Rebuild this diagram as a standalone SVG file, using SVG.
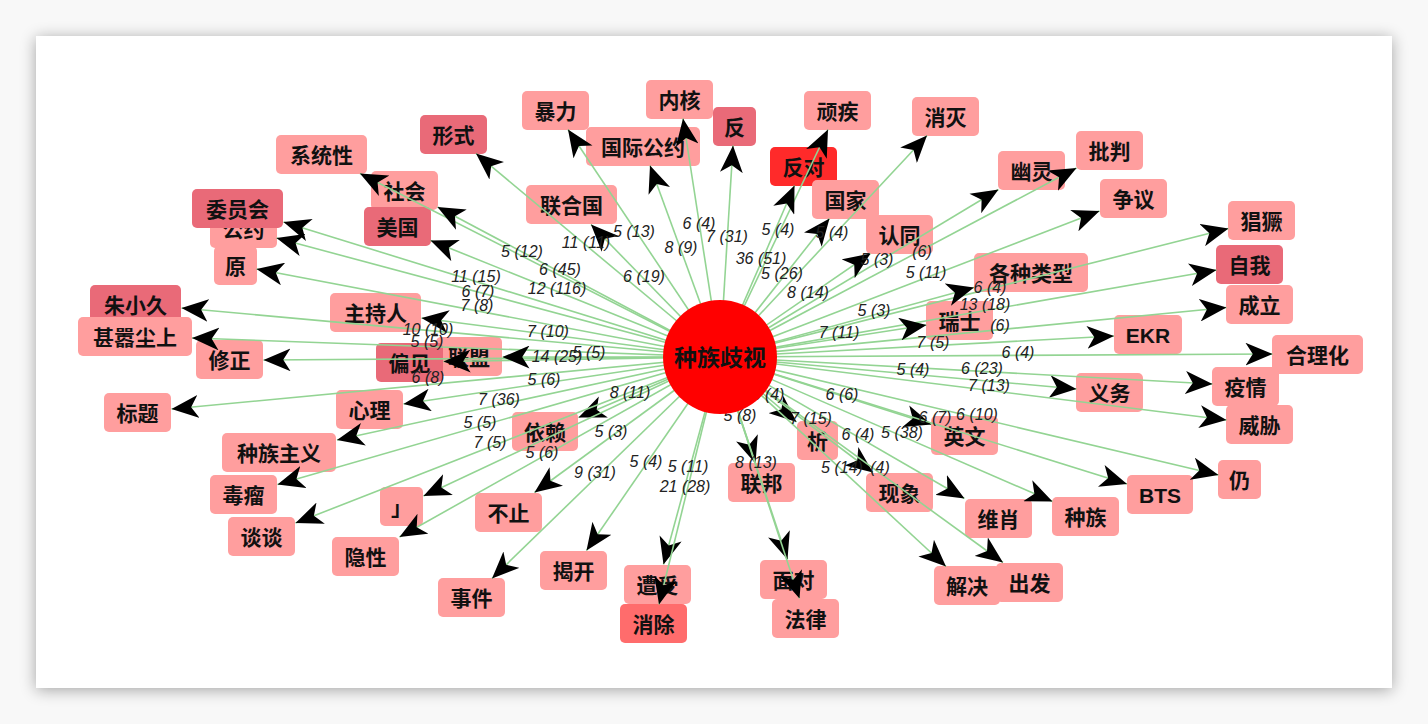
<svg xmlns="http://www.w3.org/2000/svg" width="1428" height="724" viewBox="0 0 1428 724">
<defs>
<filter id="shadow" x="-5%" y="-5%" width="110%" height="110%">
<feGaussianBlur in="SourceAlpha" stdDeviation="8"/>
<feOffset dx="0" dy="2"/>
<feComponentTransfer><feFuncA type="linear" slope="0.35"/></feComponentTransfer>
<feMerge><feMergeNode/><feMergeNode in="SourceGraphic"/></feMerge>
</filter>
<marker id="arr" viewBox="0 0 26 22" refX="26" refY="11" markerWidth="27" markerHeight="23" markerUnits="userSpaceOnUse" orient="auto">
<path d="M0,0 L26,11 L0,22 L7,11 Z" fill="#000"/>
</marker>
</defs>
<style>
.bx{fill:#ff9e9e}
.dk{fill:#e96a78}
.rd{fill:#ff2a2a}
.r2{fill:#ff6c6c}
.nt{font-family:"Liberation Sans","Noto Sans CJK SC",sans-serif;font-weight:bold;font-size:21px;fill:#111;text-anchor:middle;dominant-baseline:central}
.ed line{stroke:#93d493;stroke-width:1.6;marker-end:url(#arr)}
.el{font-family:"Liberation Sans","Noto Sans CJK SC",sans-serif;font-style:italic;font-size:16px;fill:#222;text-anchor:middle}
</style>
<rect width="1428" height="724" fill="#f8f8f8"/>
<rect x="36" y="36" width="1356" height="652" fill="#fff" filter="url(#shadow)"/>

<g id="nodes">
<g id="n-neihe"><rect class="bx" x="646" y="80" width="67" height="39" rx="5"/><text class="nt" x="679.5" y="100">内核</text></g>
<g id="n-fan"><rect class="dk" x="713" y="107" width="43" height="39" rx="5"/><text class="nt" x="734.5" y="127">反</text></g>
<g id="n-baoli"><rect class="bx" x="522" y="91" width="67" height="39" rx="5"/><text class="nt" x="555.5" y="111">暴力</text></g>
<g id="n-wanji"><rect class="bx" x="804" y="91" width="67" height="39" rx="5"/><text class="nt" x="837.5" y="111">顽疾</text></g>
<g id="n-xiaomie"><rect class="bx" x="912" y="97" width="67" height="39" rx="5"/><text class="nt" x="945.5" y="117">消灭</text></g>
<g id="n-xingshi"><rect class="dk" x="420" y="115" width="67" height="39" rx="5"/><text class="nt" x="453.5" y="135">形式</text></g>
<g id="n-guojigongyue"><rect class="bx" x="586" y="127" width="114" height="39" rx="5"/><text class="nt" x="643" y="147">国际公约</text></g>
<g id="n-pipan"><rect class="bx" x="1076" y="131" width="67" height="39" rx="5"/><text class="nt" x="1109.5" y="151">批判</text></g>
<g id="n-xitongxing"><rect class="bx" x="276" y="135" width="91" height="39" rx="5"/><text class="nt" x="321.5" y="155">系统性</text></g>
<g id="n-fandui"><rect class="rd" x="770" y="147" width="67" height="39" rx="5"/><text class="nt" x="803.5" y="167">反对</text></g>
<g id="n-youling"><rect class="bx" x="998" y="151" width="67" height="39" rx="5"/><text class="nt" x="1031.5" y="171">幽灵</text></g>
<g id="n-shehui"><rect class="bx" x="371" y="171" width="67" height="39" rx="5"/><text class="nt" x="404.5" y="191">社会</text></g>
<g id="n-lianheguo"><rect class="bx" x="526" y="185" width="91" height="39" rx="5"/><text class="nt" x="571.5" y="205">联合国</text></g>
<g id="n-guojia"><rect class="bx" x="812" y="180" width="67" height="39" rx="5"/><text class="nt" x="845.5" y="200">国家</text></g>
<g id="n-zhengyi"><rect class="bx" x="1100" y="179" width="67" height="39" rx="5"/><text class="nt" x="1133.5" y="199">争议</text></g>
<g id="n-gongyue"><rect class="bx" x="210" y="209" width="67" height="39" rx="5"/><text class="nt" x="243.5" y="229">公约</text></g>
<g id="n-weiyuanhui"><rect class="dk" x="192" y="189" width="91" height="39" rx="5"/><text class="nt" x="237.5" y="209">委员会</text></g>
<g id="n-meiguo"><rect class="dk" x="364" y="207" width="67" height="39" rx="5"/><text class="nt" x="397.5" y="227">美国</text></g>
<g id="n-rentong"><rect class="bx" x="866" y="215" width="67" height="39" rx="5"/><text class="nt" x="899.5" y="235">认同</text></g>
<g id="n-changjue"><rect class="bx" x="1228" y="201" width="67" height="39" rx="5"/><text class="nt" x="1261.5" y="221">猖獗</text></g>
<g id="n-yuan"><rect class="bx" x="214" y="246" width="43" height="39" rx="5"/><text class="nt" x="235.5" y="266">原</text></g>
<g id="n-gezhongleixing"><rect class="bx" x="974" y="253" width="114" height="39" rx="5"/><text class="nt" x="1031" y="273">各种类型</text></g>
<g id="n-ziwo"><rect class="dk" x="1216" y="245" width="67" height="39" rx="5"/><text class="nt" x="1249.5" y="265">自我</text></g>
<g id="n-zhuxiaojiu"><rect class="dk" x="90" y="285" width="91" height="39" rx="5"/><text class="nt" x="135.5" y="305">朱小久</text></g>
<g id="n-chengli"><rect class="bx" x="1226" y="285" width="67" height="39" rx="5"/><text class="nt" x="1259.5" y="305">成立</text></g>
<g id="n-zhuchiren"><rect class="bx" x="330" y="293" width="91" height="39" rx="5"/><text class="nt" x="375.5" y="313">主持人</text></g>
<g id="n-ruishi"><rect class="bx" x="926" y="301" width="67" height="39" rx="5"/><text class="nt" x="959.5" y="321">瑞士</text></g>
<g id="n-shenqichenshang"><rect class="bx" x="78" y="317" width="114" height="39" rx="5"/><text class="nt" x="135" y="337">甚嚣尘上</text></g>
<g id="n-ekr"><rect class="bx" x="1114" y="315" width="68" height="39" rx="5"/><text class="nt" x="1148" y="335">EKR</text></g>
<g id="n-xiuzheng"><rect class="bx" x="196" y="340" width="67" height="39" rx="5"/><text class="nt" x="229.5" y="360">修正</text></g>
<g id="n-lianmeng"><rect class="bx" x="436" y="337" width="66" height="39" rx="5"/><text class="nt" x="469" y="357">联盟</text></g>
<g id="n-pianjian"><rect class="dk" x="376" y="343" width="67" height="39" rx="5"/><text class="nt" x="409.5" y="363">偏见</text></g>
<g id="n-helihua"><rect class="bx" x="1272" y="335" width="91" height="39" rx="5"/><text class="nt" x="1317.5" y="355">合理化</text></g>
<g id="n-yiwu"><rect class="bx" x="1076" y="373" width="67" height="39" rx="5"/><text class="nt" x="1109.5" y="393">义务</text></g>
<g id="n-yiqing"><rect class="bx" x="1212" y="367" width="67" height="39" rx="5"/><text class="nt" x="1245.5" y="387">疫情</text></g>
<g id="n-biaoti"><rect class="bx" x="104" y="393" width="67" height="39" rx="5"/><text class="nt" x="137.5" y="413">标题</text></g>
<g id="n-xinli"><rect class="bx" x="336" y="390" width="67" height="39" rx="5"/><text class="nt" x="369.5" y="410">心理</text></g>
<g id="n-weixie"><rect class="bx" x="1226" y="405" width="67" height="39" rx="5"/><text class="nt" x="1259.5" y="425">威胁</text></g>
<g id="n-yilai"><rect class="bx" x="512" y="412" width="66" height="39" rx="5"/><text class="nt" x="545" y="432">依赖</text></g>
<g id="n-xi"><rect class="bx" x="797" y="421" width="41" height="39" rx="5"/><text class="nt" x="817.5" y="441">析</text></g>
<g id="n-yingwen"><rect class="bx" x="931" y="416" width="67" height="39" rx="5"/><text class="nt" x="964.5" y="436">英文</text></g>
<g id="n-zhongzuzhuyi"><rect class="bx" x="222" y="433" width="114" height="39" rx="5"/><text class="nt" x="279" y="453">种族主义</text></g>
<g id="n-duliu"><rect class="bx" x="210" y="475" width="67" height="39" rx="5"/><text class="nt" x="243.5" y="495">毒瘤</text></g>
<g id="n-lianbang"><rect class="bx" x="728" y="463" width="67" height="39" rx="5"/><text class="nt" x="761.5" y="483">联邦</text></g>
<g id="n-xianxiang"><rect class="bx" x="866" y="473" width="67" height="39" rx="5"/><text class="nt" x="899.5" y="493">现象</text></g>
<g id="n-bts"><rect class="bx" x="1127" y="475" width="66" height="39" rx="5"/><text class="nt" x="1160" y="495">BTS</text></g>
<g id="n-reng"><rect class="bx" x="1218" y="460" width="43" height="39" rx="5"/><text class="nt" x="1239.5" y="480">仍</text></g>
<g id="n-bracket"><rect class="bx" x="380" y="487" width="43" height="39" rx="5"/><text class="nt" x="401.5" y="507">」</text></g>
<g id="n-buzhi"><rect class="bx" x="475" y="493" width="67" height="39" rx="5"/><text class="nt" x="508.5" y="513">不止</text></g>
<g id="n-weixiao"><rect class="bx" x="965" y="499" width="67" height="39" rx="5"/><text class="nt" x="998.5" y="519">维肖</text></g>
<g id="n-zhongzu"><rect class="bx" x="1052" y="497" width="67" height="39" rx="5"/><text class="nt" x="1085.5" y="517">种族</text></g>
<g id="n-tantan"><rect class="bx" x="228" y="517" width="67" height="39" rx="5"/><text class="nt" x="261.5" y="537">谈谈</text></g>
<g id="n-yinxing"><rect class="bx" x="332" y="537" width="67" height="39" rx="5"/><text class="nt" x="365.5" y="557">隐性</text></g>
<g id="n-jiekai"><rect class="bx" x="540" y="551" width="67" height="39" rx="5"/><text class="nt" x="573.5" y="571">揭开</text></g>
<g id="n-zaoshou"><rect class="bx" x="624" y="565" width="67" height="39" rx="5"/><text class="nt" x="657.5" y="585">遭受</text></g>
<g id="n-miandui"><rect class="bx" x="760" y="560" width="67" height="39" rx="5"/><text class="nt" x="793.5" y="580">面对</text></g>
<g id="n-chufa"><rect class="bx" x="996" y="563" width="67" height="39" rx="5"/><text class="nt" x="1029.5" y="583">出发</text></g>
<g id="n-jiejue"><rect class="bx" x="934" y="566" width="66" height="39" rx="5"/><text class="nt" x="967" y="586">解决</text></g>
<g id="n-shijian"><rect class="bx" x="438" y="578" width="67" height="39" rx="5"/><text class="nt" x="471.5" y="598">事件</text></g>
<g id="n-xiaochu"><rect class="r2" x="620" y="604" width="67" height="39" rx="5"/><text class="nt" x="653.5" y="624">消除</text></g>
<g id="n-falv"><rect class="bx" x="772" y="599" width="67" height="39" rx="5"/><text class="nt" x="805.5" y="619">法律</text></g>
</g>

<g id="edges" class="ed">
<line x1="720" y1="357" x2="683" y2="118.5"/>
<line x1="720" y1="357" x2="733" y2="145.5"/>
<line x1="720" y1="357" x2="568" y2="129.5"/>
<line x1="720" y1="357" x2="828" y2="129.5"/>
<line x1="720" y1="357" x2="927" y2="135.5"/>
<line x1="720" y1="357" x2="476" y2="153.5"/>
<line x1="720" y1="357" x2="650" y2="165.5"/>
<line x1="720" y1="357" x2="1076.5" y2="168"/>
<line x1="720" y1="357" x2="360" y2="173.5"/>
<line x1="720" y1="357" x2="794.5" y2="185.5"/>
<line x1="720" y1="357" x2="998.5" y2="189.5"/>
<line x1="720" y1="357" x2="437.5" y2="207"/>
<line x1="720" y1="357" x2="591" y2="224.5"/>
<line x1="720" y1="357" x2="829.5" y2="218.5"/>
<line x1="720" y1="357" x2="1099.5" y2="211"/>
<line x1="720" y1="357" x2="283.5" y2="222"/>
<line x1="720" y1="357" x2="276.5" y2="238"/>
<line x1="720" y1="357" x2="430.5" y2="240.5"/>
<line x1="720" y1="357" x2="870.5" y2="253.5"/>
<line x1="720" y1="357" x2="1228.5" y2="228.5"/>
<line x1="720" y1="357" x2="256.5" y2="269"/>
<line x1="720" y1="357" x2="974" y2="287.5"/>
<line x1="720" y1="357" x2="1216.5" y2="270"/>
<line x1="720" y1="357" x2="181.5" y2="308"/>
<line x1="720" y1="357" x2="1226.5" y2="307.5"/>
<line x1="720" y1="357" x2="421.5" y2="318"/>
<line x1="720" y1="357" x2="926.5" y2="325"/>
<line x1="720" y1="357" x2="192" y2="338"/>
<line x1="720" y1="357" x2="1114" y2="336"/>
<line x1="720" y1="357" x2="263.5" y2="360"/>
<line x1="720" y1="357" x2="443.5" y2="361.5"/>
<line x1="720" y1="357" x2="502.5" y2="357"/>
<line x1="720" y1="357" x2="1272.5" y2="354"/>
<line x1="720" y1="357" x2="1076.5" y2="389"/>
<line x1="720" y1="357" x2="1212.5" y2="384"/>
<line x1="720" y1="357" x2="171.5" y2="409"/>
<line x1="720" y1="357" x2="403.5" y2="404"/>
<line x1="720" y1="357" x2="1226.5" y2="420"/>
<line x1="720" y1="357" x2="578.5" y2="417.5"/>
<line x1="720" y1="357" x2="796.5" y2="422"/>
<line x1="720" y1="357" x2="931.5" y2="424.5"/>
<line x1="720" y1="357" x2="337" y2="440"/>
<line x1="720" y1="357" x2="277.5" y2="484.5"/>
<line x1="720" y1="357" x2="755.5" y2="463.5"/>
<line x1="720" y1="357" x2="873" y2="472.5"/>
<line x1="720" y1="357" x2="1127" y2="484"/>
<line x1="720" y1="357" x2="1218.5" y2="475"/>
<line x1="720" y1="357" x2="423.5" y2="496"/>
<line x1="720" y1="357" x2="534.5" y2="492.5"/>
<line x1="720" y1="357" x2="964.5" y2="498.5"/>
<line x1="720" y1="357" x2="1052.5" y2="501.5"/>
<line x1="720" y1="357" x2="295.5" y2="523"/>
<line x1="720" y1="357" x2="399.5" y2="537"/>
<line x1="720" y1="357" x2="586.5" y2="550.5"/>
<line x1="720" y1="357" x2="663.5" y2="564.5"/>
<line x1="720" y1="357" x2="787.5" y2="559.5"/>
<line x1="720" y1="357" x2="1003" y2="562.5"/>
<line x1="720" y1="357" x2="946" y2="566.5"/>
<line x1="720" y1="357" x2="492" y2="578.5"/>
<line x1="720" y1="357" x2="659" y2="604.5"/>
<line x1="720" y1="357" x2="799.5" y2="598.5"/>
</g>

<g id="edge-labels" class="el">
<text x="522" y="257">5 (12)</text>
<text x="476" y="282">11 (15)</text>
<text x="560" y="275">6 (45)</text>
<text x="478" y="297">6 (7)</text>
<text x="557" y="294">12 (116)</text>
<text x="477" y="311">7 (8)</text>
<text x="586" y="248">11 (11)</text>
<text x="634" y="237">5 (13)</text>
<text x="699" y="229">6 (4)</text>
<text x="681" y="253">8 (9)</text>
<text x="727" y="242">7 (31)</text>
<text x="778" y="235">5 (4)</text>
<text x="761" y="264">36 (51)</text>
<text x="782" y="279">5 (26)</text>
<text x="808" y="298">8 (14)</text>
<text x="644" y="282">6 (19)</text>
<text x="832" y="238">5 (4)</text>
<text x="877" y="265">5 (3)</text>
<text x="922" y="257">(6)</text>
<text x="926" y="278">5 (11)</text>
<text x="990" y="293">6 (4)</text>
<text x="985" y="310">13 (18)</text>
<text x="1000" y="331">(6)</text>
<text x="874" y="316">5 (3)</text>
<text x="839" y="338">7 (11)</text>
<text x="933" y="348">7 (5)</text>
<text x="1018" y="358">6 (4)</text>
<text x="913" y="375">5 (4)</text>
<text x="982" y="374">6 (23)</text>
<text x="989" y="391">7 (13)</text>
<text x="842" y="400">6 (6)</text>
<text x="977" y="420">6 (10)</text>
<text x="935" y="423">6 (7)</text>
<text x="902" y="438">5 (38)</text>
<text x="858" y="440">6 (4)</text>
<text x="842" y="473">5 (14)</text>
<text x="880" y="473">(4)</text>
<text x="811" y="424">7 (15)</text>
<text x="768" y="400">5 (4)</text>
<text x="740" y="421">5 (8)</text>
<text x="756" y="468">8 (13)</text>
<text x="688" y="472">5 (11)</text>
<text x="685" y="492">21 (28)</text>
<text x="646" y="467">5 (4)</text>
<text x="595" y="478">9 (31)</text>
<text x="542" y="458">5 (6)</text>
<text x="611" y="437">5 (3)</text>
<text x="630" y="398">8 (11)</text>
<text x="499" y="405">7 (36)</text>
<text x="480" y="428">5 (5)</text>
<text x="490" y="448">7 (5)</text>
<text x="544" y="385">5 (6)</text>
<text x="428" y="383">6 (8)</text>
<text x="557" y="362">14 (25)</text>
<text x="589" y="358">5 (5)</text>
<text x="427" y="347">5 (5)</text>
<text x="428" y="335">10 (10)</text>
<text x="548" y="337">7 (10)</text>
</g>

<g id="n-center">
<circle cx="720" cy="357" r="57" fill="#ff0000"/>
<text class="nt" x="720" y="358" style="font-size:23px">种族歧视</text>
</g>
</svg>
